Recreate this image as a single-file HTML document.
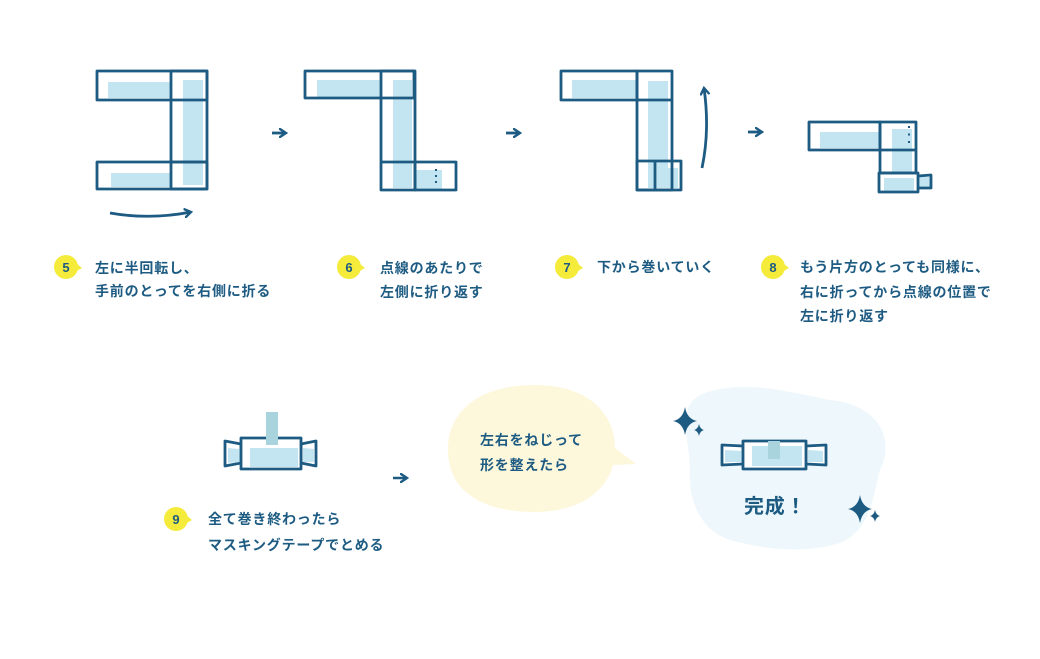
<!DOCTYPE html>
<html><head><meta charset="utf-8"><style>
html,body{margin:0;padding:0;background:#fff;}
svg{display:block;}
text{font-family:"Liberation Sans","Noto Sans CJK JP",sans-serif;fill:#1d5b82;font-size:14px;font-weight:bold;letter-spacing:0.8px;}
.n{font-size:13px;font-weight:bold;fill:#1d5b82;text-anchor:middle;letter-spacing:0;}
</style></head><body>
<svg width="1040" height="659" viewBox="0 0 1040 659" xmlns="http://www.w3.org/2000/svg">
<defs>
<marker id="ah" markerWidth="10" markerHeight="10" refX="7" refY="5" orient="auto" markerUnits="userSpaceOnUse"><path d="M1,1 L7,5 L1,9" fill="none" stroke="#1d5b82" stroke-width="2.4" stroke-linecap="round"/></marker>
</defs>
<g stroke="#1d5b82" stroke-width="2.8" fill="none" stroke-linejoin="round">
<g>
<rect x="108" y="82" width="63" height="16" fill="#c3e5f1" stroke="none"/>
<rect x="183" y="80" width="20" height="105" fill="#c3e5f1" stroke="none"/>
<rect x="111" y="173" width="60" height="14" fill="#c3e5f1" stroke="none"/>
<rect x="97" y="71" width="110" height="29"/>
<rect x="171" y="71" width="36" height="118"/>
<line x1="171" y1="162" x2="207" y2="162"/>
<rect x="97" y="162" width="110" height="27"/>
<path d="M110,213 Q150,220 191,212" marker-end="url(#ah)"/>
</g>
<path d="M272,133 L286,133" marker-end="url(#ah)"/>
<g>
<rect x="317" y="80" width="64" height="17" fill="#c3e5f1" stroke="none"/>
<rect x="393" y="80" width="19" height="108" fill="#c3e5f1" stroke="none"/>
<rect x="416" y="170" width="26" height="19" fill="#c3e5f1" stroke="none"/>
<rect x="305" y="71" width="109" height="27"/>
<rect x="381" y="71" width="34" height="119"/>
<line x1="381" y1="162" x2="415" y2="162"/>
<rect x="415" y="162" width="41" height="28"/>
<line x1="436" y1="169" x2="436" y2="187" stroke-width="2" stroke-dasharray="2,4"/>
</g>
<path d="M506,133 L520,133" marker-end="url(#ah)"/>
<g>
<rect x="572" y="80" width="64" height="18" fill="#c3e5f1" stroke="none"/>
<rect x="648" y="81" width="20" height="107" fill="#c3e5f1" stroke="none"/>
<rect x="660" y="168" width="18" height="20" fill="#c3e5f1" stroke="none"/>
<rect x="561" y="71" width="76" height="29"/>
<rect x="637" y="71" width="35" height="119"/>
<line x1="637" y1="100" x2="672" y2="100"/>
<rect x="637" y="161" width="44" height="29"/>
<line x1="655" y1="161" x2="655" y2="190"/>
<path d="M702,168 Q710,130 704,88" marker-end="url(#ah)"/>
</g>
<path d="M748,132 L762,132" marker-end="url(#ah)"/>
<g>
<rect x="820" y="132" width="60" height="16" fill="#c3e5f1" stroke="none"/>
<rect x="892" y="129" width="20" height="44" fill="#c3e5f1" stroke="none"/>
<rect x="884" y="178" width="30" height="13" fill="#c3e5f1" stroke="none"/>
<rect x="918" y="177" width="12" height="11" fill="#c3e5f1" stroke="none"/>
<rect x="809" y="122" width="71" height="28"/>
<rect x="880" y="122" width="36" height="51"/>
<line x1="880" y1="150" x2="916" y2="150"/>
<rect x="879" y="173" width="39" height="19"/>
<path d="M918,176 L931,175 L931,188 L918,188"/>
<line x1="909" y1="126" x2="909" y2="148" stroke-width="2" stroke-dasharray="2,5.5"/>
</g>
</g>
<g>
<circle cx="66" cy="267" r="12" fill="#f5eb3a"/><path d="M76,263 L82,268 L75,272Z" fill="#f5eb3a"/>
<text class="n" x="66" y="272">5</text>
<text x="95" y="273">左に半回転し、</text>
<text x="95" y="296">手前のとってを右側に折る</text>
<circle cx="349" cy="267" r="12" fill="#f5eb3a"/><path d="M359,263 L365,268 L358,272Z" fill="#f5eb3a"/>
<text class="n" x="349" y="272">6</text>
<text x="380" y="273">点線のあたりで</text>
<text x="380" y="297">左側に折り返す</text>
<circle cx="567" cy="267" r="12" fill="#f5eb3a"/><path d="M577,263 L583,268 L576,272Z" fill="#f5eb3a"/>
<text class="n" x="567" y="272">7</text>
<text x="597" y="272">下から巻いていく</text>
<circle cx="773" cy="267" r="12" fill="#f5eb3a"/><path d="M783,263 L789,268 L782,272Z" fill="#f5eb3a"/>
<text class="n" x="773" y="272">8</text>
<text x="800" y="272">もう片方のとっても同様に、</text>
<text x="800" y="297">右に折ってから点線の位置で</text>
<text x="800" y="321">左に折り返す</text>
</g>
<g stroke="#1d5b82" stroke-width="2.8" stroke-linejoin="round">
<path d="M225,441 L241,444 L241,463 L225,466Z" fill="#fff"/>
<path d="M228,448 L240,449 L240,462 L228,463Z" fill="#c3e5f1" stroke="none"/>
<path d="M316,441 L301,444 L301,463 L316,466Z" fill="#fff"/>
<path d="M303,448 L314,449 L314,462 L303,462Z" fill="#c3e5f1" stroke="none"/>
<rect x="241" y="438" width="60" height="31" fill="#fff"/>
<rect x="250" y="448" width="48" height="19" fill="#c3e5f1" stroke="none"/>
<rect x="266" y="412" width="12" height="33" fill="#a9d3dd" stroke="none"/>
</g>
<circle cx="176" cy="519" r="12" fill="#f5eb3a"/><path d="M186,515 L192,520 L185,524Z" fill="#f5eb3a"/>
<text class="n" x="176" y="524">9</text>
<text x="208" y="524">全て巻き終わったら</text>
<text x="208" y="550">マスキングテープでとめる</text>
<path d="M393,478 L407,478" stroke="#1d5b82" stroke-width="2.5" fill="none" marker-end="url(#ah)"/>
<path d="M535,385 C590,385 615,415 615,448 L636,464 L613,465 C605,495 575,512 535,512 C480,512 448,490 448,450 C448,410 480,385 535,385Z" fill="#fdf8dc"/>
<text x="480" y="445">左右をねじって</text>
<text x="480" y="470">形を整えたら</text>
<path d="M700,395 C740,378 790,392 830,400 C880,405 895,440 880,470 C872,500 870,530 840,543 C800,555 760,548 730,540 C700,530 688,500 690,470 C690,440 675,410 700,395Z" fill="#eef7fb"/>
<g stroke="#1d5b82" stroke-width="2.8" stroke-linejoin="round">
<path d="M722,445 L743,446 L743,464 L722,465Z" fill="#fff"/>
<path d="M725,450 L742,451 L742,462 L725,462Z" fill="#c3e5f1" stroke="none"/>
<path d="M826,445 L806,446 L806,464 L826,465Z" fill="#fff"/>
<path d="M808,450 L823,451 L823,462 L808,462Z" fill="#c3e5f1" stroke="none"/>
<rect x="743" y="441" width="63" height="28" fill="#fff"/>
<rect x="752" y="446" width="50" height="20" fill="#c3e5f1" stroke="none"/>
<rect x="768" y="441" width="12" height="18" fill="#a9d3dd" stroke="none"/>
</g>
<text x="744" y="513" style="font-size:20px" letter-spacing="3">完成！</text>
<g fill="#1d5b82">
<path d="M685,407 Q687,419 697,421 Q687,423 685,435 Q683,423 673,421 Q683,419 685,407Z"/>
<path d="M699,424 Q700,429 704,430 Q700,431 699,436 Q698,431 694,430 Q698,429 699,424Z"/>
<path d="M860,495 Q862,507 872,509 Q862,511 860,523 Q858,511 848,509 Q858,507 860,495Z"/>
<path d="M875,510 Q876,515 880,516 Q876,517 875,522 Q874,517 870,516 Q874,515 875,510Z"/>
</g>
</svg>
</body></html>
